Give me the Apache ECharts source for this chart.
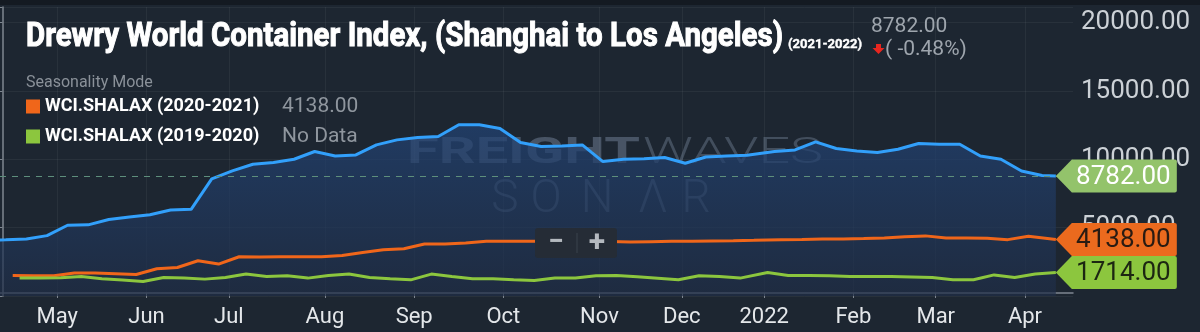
<!DOCTYPE html>
<html><head><meta charset="utf-8">
<script src="https://cdn.jsdelivr.net/npm/echarts@6/dist/echarts.min.js"></script>
<style>html,body{margin:0;padding:0;background:#1d2631;}#c{width:1200px;height:332px;}</style>
</head><body><div id="c"></div><script>
// ---- Axis definitions (x unit = one date slot of the merged seasonality axis) ----
const monthLabels = ['May','Jun','Jul','Aug','Sep','Oct','Nov','Dec','2022','Feb','Mar','Apr'];
const monthUnits  = [8, 21, 33, 47, 60, 73, 87, 99, 111, 124, 136, 149];
const yTickValues = [5000, 10000, 15000, 20000];

// ---- WCI.SHALAX (2021-2022) ----
const blueX = [-2.5,0.5,3.5,6.5,9.5,12.5,15.5,18.5,21.5,24.5,27.5,30.5,33.5,36.5,39.5,42.5,45.5,48.5,51.5,54.5,57.5,60.5,63.5,66.5,69.5,72.5,75.5,78.5,81.5,84.5,87.5,90.5,93.5,96.5,99.5,102.5,105.5,108.5,112.5,115.5,118.5,121.5,124.5,127.5,130.5,133.5,136.5,139.5,142.5,145.5,148.5,151.5,153.5];
const blueY = [4080,4110,4176,4419,5176,5206,5596,5780,5950,6300,6345,8574,9160,9640,9765,10007,10573,10250,10323,11058,11426,11603,11676,12529,12529,12265,11235,10941,10985,11058,9838,10007,10044,10132,9713,10176,10250,10301,10574,10691,11279,10794,10618,10500,10743,11162,11110,11110,10250,10007,9147,8824,8782];

// ---- WCI.SHALAX (2020-2021) ----
const orangeX = [1.5,4.5,7.5,10.5,13.5,16.5,19.5,22.5,25.5,28.5,31.5,34.5,37.5,40.5,43.5,46.5,49.5,52.5,55.5,58.5,61.5,64.5,67.5,70.5,73.5,76.5,79.5,82.5,85.5,88.5,91.5,94.5,97.5,100.5,103.5,106.5,109.5,113.5,116.5,119.5,122.5,125.5,128.5,131.5,134.5,137.5,140.5,143.5,146.5,149.5,153.5];
const orangeY = [1500,1478,1478,1676,1676,1625,1574,1993,2088,2581,2338,2875,2853,2875,2875,2875,2970,3191,3390,3463,3809,3809,3882,4000,4000,4000,4000,3990,3980,3980,3956,3978,4000,4010,4030,4051,4080,4125,4140,4176,4176,4200,4250,4330,4400,4250,4250,4220,4125,4368,4138];

// ---- WCI.SHALAX (2019-2020) ----
const greenX = [2.5,5.5,8.5,11.5,14.5,17.5,20.5,23.5,26.5,29.5,32.5,35.5,38.5,41.5,44.5,47.5,50.5,53.5,56.5,59.5,62.5,65.5,68.5,71.5,74.5,77.5,80.5,83.5,86.5,89.5,92.5,95.5,98.5,101.5,104.5,107.5,111.5,114.5,117.5,120.5,123.5,126.5,129.5,132.5,135.5,138.5,141.5,144.5,147.5,150.5,153.5];
const greenY = [1309,1309,1330,1426,1257,1169,1059,1353,1309,1235,1353,1603,1426,1478,1309,1500,1603,1353,1257,1184,1603,1426,1257,1257,1184,1132,1309,1309,1478,1500,1404,1294,1184,1478,1426,1309,1720,1500,1500,1478,1430,1426,1426,1390,1353,1184,1184,1545,1353,1603,1714];

const seriesNames = ['WCI.SHALAX (2021-2022)','WCI.SHALAX (2020-2021)','WCI.SHALAX (2019-2020)'];
const legendValues = {'WCI.SHALAX (2020-2021)':'4138.00','WCI.SHALAX (2019-2020)':'No Data'};

const toPairs = (xs, ys) => xs.map((x, i) => [x, ys[i]]);
const last = a => a[a.length - 1];
const blueLast = last(blueY), bluePrev = blueY[blueY.length - 2];
const pct = ((blueLast - bluePrev) / bluePrev * 100).toFixed(2);

const mctx = document.createElement('canvas').getContext('2d');
function fitScale(text, font, target){ mctx.font = font; return target / mctx.measureText(text).width; }

const TAG = 'path://M0,16.5 L16,0 L119,0 Q121,0 121,2 L121,31 Q121,33 119,33 L16,33 Z';
function tag(x, v, bg, fg){
  return { symbol: TAG, symbolSize: [121, 33], symbolOffset: [60.5, 0], silent: true,
    itemStyle: { color: bg },
    label: { show: true, position: 'inside', offset: [7, 1], formatter: v.toFixed(2), color: fg, fontSize: 26, fontFamily: 'Roboto' },
    data: [{ coord: [x, v], value: v }] };
}

const titleText = 'Drewry World Container Index, (Shanghai to Los Angeles)';
const titleFont = 'bold 33px Roboto';
const subText = '(2021-2022)', subFont = 'bold 13px Roboto';
const wmFill = 'rgba(165,182,210,0.28)';
const sonarLetters = ['S','O','N','\u039B','R'];
const sonarCenters = [505, 546, 597, 653, 696];

const chart = echarts.init(document.getElementById('c'), null, { renderer: 'canvas', width: 1200, height: 332 });
chart.setOption({
  animation: false,
  backgroundColor: '#1d2631',
  grid: { left: 0, right: 127, top: 7, bottom: 36 },
  legend: {
    data: [seriesNames[1], seriesNames[2]], orient: 'vertical', left: 26, top: 96, padding: 0,
    itemWidth: 14, itemHeight: 14, itemGap: 9, icon: 'rect', selectedMode: false,
    formatter: name => `{n|${name}}{v|${legendValues[name]}}`,
    textStyle: { rich: {
      n: { color: '#ffffff', fontWeight: 'bold', fontSize: 18, fontFamily: 'Roboto', width: 237, lineHeight: 24 },
      v: { color: '#8f969e', fontSize: 21, fontFamily: 'Roboto', lineHeight: 24 } } }
  },
  xAxis: {
    type: 'value', min: -0.35, max: 156, offset: -3,
    axisLine: { show: true, lineStyle: { color: '#7f8791', width: 1.5 } },
    axisTick: { show: true, customValues: monthUnits, length: 5, lineStyle: { color: '#7f8791' } },
    axisLabel: { show: true, customValues: monthUnits, formatter: v => monthLabels[monthUnits.indexOf(v)] || '',
      color: '#e4e7ea', fontSize: 22, fontFamily: 'Roboto', margin: 13 },
    splitLine: { show: true, lineStyle: { color: 'rgba(255,255,255,0.05)', width: 1 } }
  },
  yAxis: {
    type: 'value', position: 'right', min: 0, max: 21150, interval: 5000,
    axisLine: { show: true, lineStyle: { color: '#7f8791', width: 1.5 } },
    axisTick: { show: true, inside: true, length: 3, lineStyle: { color: '#7f8791' } },
    axisLabel: { color: '#ccd1d6', fontSize: 26, fontFamily: 'Roboto', margin: 8,
      formatter: v => yTickValues.indexOf(v) >= 0 ? v.toFixed(2) : '' },
    splitLine: { show: true, lineStyle: { color: 'rgba(255,255,255,0.05)' } }
  },
  series: [
    { name: seriesNames[0], type: 'line', data: toPairs(blueX, blueY), symbol: 'none', z: 2,
      lineStyle: { color: '#32a0fb', width: 3 }, itemStyle: { color: '#32a0fb' },
      areaStyle: { color: new echarts.graphic.LinearGradient(0, 0, 0, 1, [
        { offset: 0, color: '#224477' }, { offset: 1, color: '#1f2d46' }]) },
      markLine: { silent: true, symbol: 'none', label: { show: false },
        lineStyle: { color: '#5e8f7c', type: [6, 6], width: 1.2 }, data: [{ yAxis: blueLast }] },
      markPoint: tag(last(blueX), blueLast, '#93c36b', '#ffffff') },
    { name: seriesNames[1], type: 'line', data: toPairs(orangeX, orangeY), symbol: 'none', z: 3,
      lineStyle: { color: '#f0661a', width: 3 }, itemStyle: { color: '#f0661a' },
      markPoint: tag(last(orangeX), last(orangeY), '#eb6a1e', '#2a1b12') },
    { name: seriesNames[2], type: 'line', data: toPairs(greenX, greenY), symbol: 'none', z: 3,
      lineStyle: { color: '#8cc63e', width: 3 }, itemStyle: { color: '#8cc63e' },
      markPoint: tag(last(greenX), last(greenY), '#8cc63e', '#1c2612') }
  ],
  graphic: [
    { type: 'rect', shape: { x: 0, y: 0, width: 1200, height: 5 }, style: { fill: '#141a22' }, z: 0 },
    { type: 'text', x: 26, y: 37.5, scaleX: fitScale(titleText, titleFont, 757), z: 10,
      style: { text: titleText, font: titleFont, fill: '#ffffff', stroke: '#ffffff', lineWidth: 1, align: 'left', verticalAlign: 'middle' } },
    { type: 'text', x: 788, y: 45, scaleX: fitScale(subText, subFont, 74), z: 10,
      style: { text: subText, font: subFont, fill: '#ffffff', stroke: '#ffffff', lineWidth: 0.4, align: 'left', verticalAlign: 'middle' } },
    { type: 'text', x: 871, y: 27, z: 10,
      style: { text: blueLast.toFixed(2), font: '21px Roboto', fill: '#9ea5ad', align: 'left', verticalAlign: 'middle' } },
    { type: 'polygon', z: 10, shape: { points: [[876,44],[881,44],[881,48],[884.5,48],[878.5,54],[872.5,48],[876,48]] }, style: { fill: '#e8261f' } },
    { type: 'text', x: 885, y: 50, z: 10,
      style: { text: '( ' + pct + '%)', font: '21px Roboto', fill: '#9ea5ad', align: 'left', verticalAlign: 'middle' } },
    { type: 'text', x: 26, y: 83, z: 10,
      style: { text: 'Seasonality Mode', font: '16px Roboto', fill: '#8a9199', align: 'left', verticalAlign: 'middle' } },
    // watermark
    { type: 'text', x: 407, y: 154, scaleX: fitScale('FREIGHT', 'bold 36px Roboto', 233), z: 1, silent: true,
      style: { text: 'FREIGHT', font: 'bold 36px Roboto', fill: 'rgba(165,182,210,0.32)', align: 'left', verticalAlign: 'middle' } },
    { type: 'text', x: 643, y: 154, scaleX: fitScale('WAVES', '300 36px Roboto', 180), z: 1, silent: true,
      style: { text: 'WAVES', font: '300 36px Roboto', fill: wmFill, align: 'left', verticalAlign: 'middle' } },
    ...sonarLetters.map((ch, i) => ({ type: 'text', x: sonarCenters[i], y: 200, z: 1, silent: true,
      style: { text: ch, font: '300 46px Roboto', fill: wmFill, align: 'center', verticalAlign: 'middle' } })),
    // zoom control
    { type: 'group', zlevel: 1, z: 100, children: [
      { type: 'rect', zlevel: 1, z: 100, shape: { x: 535, y: 228, width: 82, height: 30, r: 3 }, style: { fill: '#252c36' } },
      { type: 'line', zlevel: 1, z: 101, shape: { x1: 577, y1: 233, x2: 577, y2: 253 }, style: { stroke: '#3a424c', lineWidth: 1 } },
      { type: 'text', zlevel: 1, z: 101, x: 556, y: 243, style: { text: '\u2212', font: 'bold 28px Roboto', fill: '#b4b9bf', align: 'center', verticalAlign: 'middle' } },
      { type: 'text', zlevel: 1, z: 101, x: 597, y: 243, style: { text: '+', font: 'bold 30px Roboto', fill: '#b4b9bf', align: 'center', verticalAlign: 'middle' } }
    ] }
  ]
});
</script></body></html>
